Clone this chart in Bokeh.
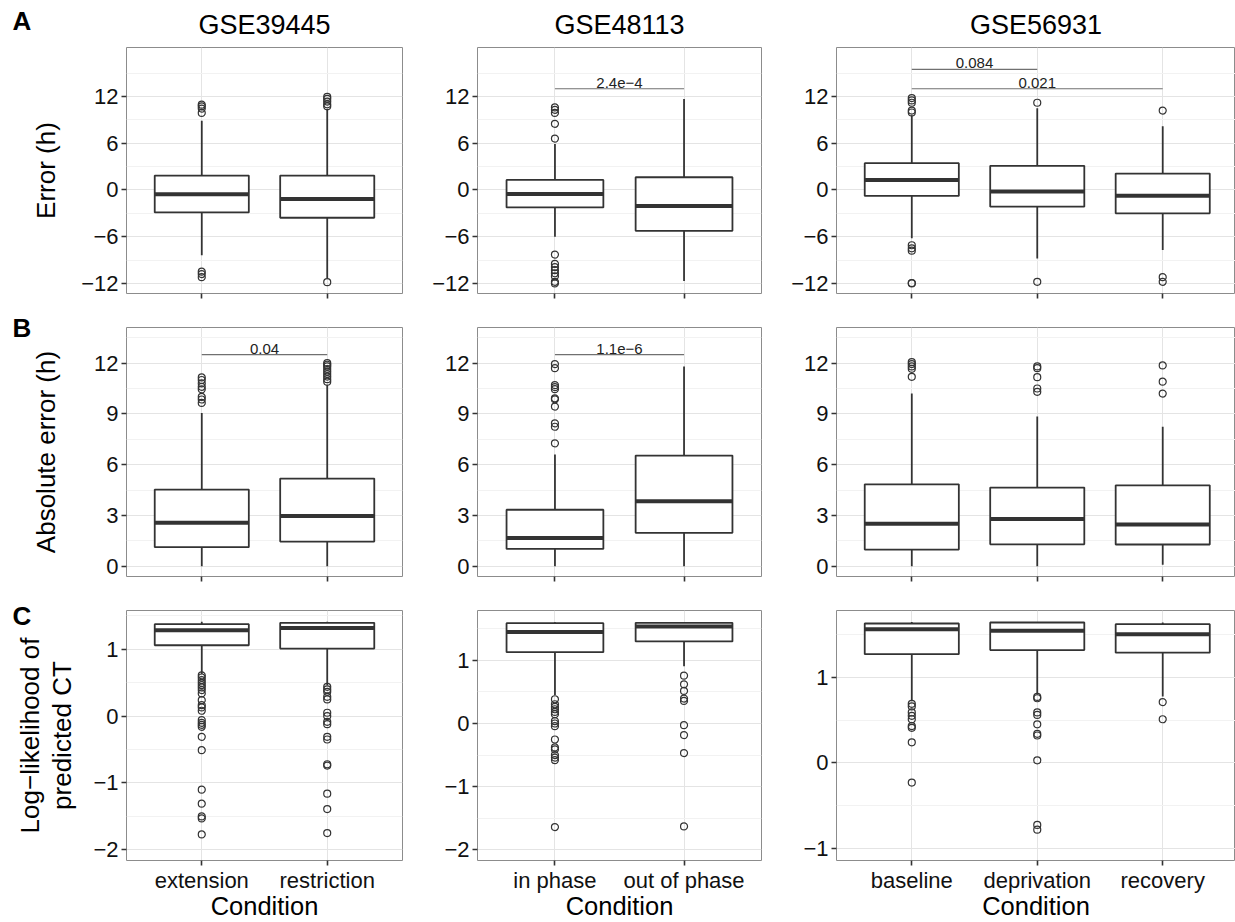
import math
from bokeh.plotting import figure
from bokeh.layouts import gridplot, row, column
from bokeh.models import Range1d, FixedTicker, ColumnDataSource
from bokeh.core.properties import value
from bokeh.embed import file_html
from bokeh.resources import INLINE

FONT = "Liberation Sans"
INK = "#333333"

# ---- conditions per dataset ----
cond_39445 = ["extension", "restriction"]
cond_48113 = ["in phase", "out of phase"]
cond_56931 = ["baseline", "deprivation", "recovery"]

# ---- row A: signed error (h) ----
err_39445_lo = [-8.4, -11.35]
err_39445_q1 = [-2.88, -3.57]
err_39445_med = [-0.56, -1.16]
err_39445_q3 = [1.85, 1.85]
err_39445_hi = [8.9, 10.4]
err_39445_out = [[10.95, 10.75, 10.45, 9.9, -10.5, -10.8, -11.2],
                 [11.95, 11.7, 11.35, 11.0, 10.75, -11.85]]

err_48113_lo = [-6.0, -11.7]
err_48113_q1 = [-2.24, -5.25]
err_48113_med = [-0.52, -2.06]
err_48113_q3 = [1.29, 1.63]
err_48113_hi = [5.9, 11.7]
err_48113_out = [[10.6, 10.3, 9.9, 8.5, 6.6, -8.3, -9.5, -9.9, -10.3, -10.7, -11.1, -11.8, -12.0],
                 []]

err_56931_lo = [-6.2, -8.8, -7.7]
err_56931_q1 = [-0.77, -2.15, -3.0]
err_56931_med = [1.29, -0.2, -0.73]
err_56931_q3 = [3.44, 3.1, 2.1]
err_56931_hi = [9.6, 10.5, 8.2]
err_56931_out = [[11.8, 11.5, 11.2, 10.2, 9.95, -7.1, -7.5, -7.8, -11.95, -12.0],
                 [11.2, -11.8],
                 [10.2, -11.2, -11.8]]

# ---- row B: absolute error (h) ----
abs_39445_lo = [0.0, 0.0]
abs_39445_q1 = [1.13, 1.46]
abs_39445_med = [2.57, 2.97]
abs_39445_q3 = [4.53, 5.18]
abs_39445_hi = [9.05, 10.7]
abs_39445_out = [[11.15, 11.0, 10.8, 10.6, 10.45, 10.0, 9.85, 9.65],
                 [12.0, 11.9, 11.8, 11.65, 11.5, 11.35, 11.2, 11.05, 10.9]]

abs_48113_lo = [0.0, 0.0]
abs_48113_q1 = [1.03, 1.98]
abs_48113_med = [1.68, 3.84]
abs_48113_q3 = [3.34, 6.54]
abs_48113_hi = [6.6, 11.8]
abs_48113_out = [[11.94, 11.7, 10.7, 10.58, 10.46, 9.92, 9.86, 9.43, 8.44, 8.24, 7.26],
                 []]

abs_56931_lo = [0.0, 0.0, 0.1]
abs_56931_q1 = [0.99, 1.3, 1.29]
abs_56931_med = [2.51, 2.79, 2.47]
abs_56931_q3 = [4.84, 4.65, 4.78]
abs_56931_hi = [10.2, 8.84, 8.24]
abs_56931_out = [[12.06, 11.94, 11.8, 11.66, 11.19],
                 [11.8, 11.7, 11.17, 10.5, 10.3],
                 [11.86, 10.9, 10.2]]

# ---- row C: log-likelihood of predicted CT ----
ll_39445_lo = [0.63, 0.46]
ll_39445_q1 = [1.06, 1.01]
ll_39445_med = [1.285, 1.32]
ll_39445_q3 = [1.375, 1.395]
ll_39445_hi = [1.41, 1.41]
ll_39445_out = [[0.61, 0.578, 0.538, 0.498, 0.463, 0.428, 0.389, 0.339, 0.239, 0.164, 0.13, 0.08,
                 -0.06, -0.1, -0.13, -0.16, -0.31, -0.51, -1.10, -1.31, -1.50, -1.53, -1.77],
                [0.438, 0.399, 0.364, 0.289, 0.249, 0.05, 0.0, -0.085, -0.12, -0.31, -0.35,
                 -0.72, -0.74, -1.16, -1.39, -1.75]]

ll_48113_lo = [0.45, 0.905]
ll_48113_q1 = [1.13, 1.3]
ll_48113_med = [1.45, 1.537]
ll_48113_q3 = [1.59, 1.595]
ll_48113_hi = [1.605, 1.605]
ll_48113_out = [[0.384, 0.305, 0.263, 0.226, 0.184, 0.147, 0.037, 0.0, -0.042, -0.253, -0.379,
                 -0.41, -0.5, -0.54, -0.58, -1.64],
                [0.758, 0.621, 0.516, 0.395, 0.358, -0.026, -0.184, -0.468, -1.63]]

ll_56931_lo = [0.72, 0.80, 0.775]
ll_56931_q1 = [1.27, 1.318, 1.287]
ll_56931_med = [1.562, 1.543, 1.504]
ll_56931_q3 = [1.628, 1.64, 1.62]
ll_56931_hi = [1.647, 1.647, 1.64]
ll_56931_out = [[0.69, 0.66, 0.59, 0.55, 0.51, 0.43, 0.41, 0.24, -0.23],
                [0.77, 0.755, 0.59, 0.56, 0.45, 0.34, 0.32, 0.03, -0.725, -0.78],
                [0.71, 0.51]]

# ---- pairwise test p-values shown above the boxes: (from, to, height, text) ----
sig_err_48113 = [(1, 2, 13.0, "2.4e\u22124")]
sig_err_56931 = [(1, 2, 15.5, "0.084"), (1, 3, 13.0, "0.021")]
sig_abs_39445 = [(1, 2, 12.5, "0.04")]
sig_abs_48113 = [(1, 2, 12.5, "1.1e\u22126")]

# ---- row headings: panel letter and y-axis title lines ----
row_letters = ["A", "B", "C"]
row_titles = [["Error (h)"], ["Absolute error (h)"], ["Log\u2212likelihood of", "predicted CT"]]


def minus(v):
    return ("%g" % v).replace("-", "\u2212")


def make_panel(width, height, borders, xr, yr, yticks, yminor, conds,
               show_xlabels, title=None):
    left, right, top, bottom = borders
    p = figure(width=width, height=height, x_range=Range1d(*xr), y_range=Range1d(*yr),
               output_backend="svg", toolbar_location=None, tools="",
               min_border_left=left, min_border_right=right,
               min_border_top=top, min_border_bottom=bottom)
    p.background_fill_color = "white"
    p.border_fill_color = "white"
    p.outline_line_color = "#8c8c8c"
    p.outline_line_width = 1

    xs = list(range(1, len(conds) + 1))
    p.xaxis.ticker = FixedTicker(ticks=xs)
    p.yaxis.ticker = FixedTicker(ticks=yticks, minor_ticks=yminor)
    p.yaxis.major_label_overrides = {t: minus(t) for t in yticks}
    for ax in (p.xaxis, p.yaxis):
        ax.axis_line_color = None
        ax.major_tick_line_color = INK
        ax.major_tick_line_width = 1.6
        ax.major_tick_in = 0
        ax.major_tick_out = 5
        ax.minor_tick_line_color = None
        ax.major_label_text_font = FONT
        ax.major_label_text_color = "#111111"
        ax.major_label_standoff = 3
        ax.axis_label_text_font = FONT
        ax.axis_label_text_font_style = "normal"
        ax.axis_label_text_color = "#000000"
    if show_xlabels:
        p.xaxis.major_label_overrides = {x: c for x, c in zip(xs, conds)}
        p.xaxis.axis_label = "Condition"
        p.xaxis.axis_label_text_font_size = "25.5px"
        p.xaxis.axis_label_standoff = -4
        p.xaxis.major_label_standoff = 2
        p.xaxis.major_label_text_font_size = "22px"
    else:
        p.xaxis.major_label_overrides = {x: "" for x in xs}
        p.xaxis.major_label_text_font_size = "0px"
        p.xaxis.major_label_standoff = 0
    p.yaxis.major_label_text_font_size = "22px"

    p.xgrid.grid_line_color = "#e4e4e4"
    p.ygrid.grid_line_color = "#e4e4e4"
    p.ygrid.minor_grid_line_color = "#f2f2f2"

    if title:
        p.title.text = title
        p.title.align = "center"
        p.title.vertical_align = "top"
        p.title.text_font = FONT
        p.title.text_font_size = "27px"
        p.title.text_font_style = "normal"
        p.title.text_color = "#000000"
        p.title.standoff = 12
    return p


def heading_panel(width, height, top, bottom, letter, letter_top, lines, line_x):
    # narrow strip left of each row: bold panel letter and the rotated y-axis title,
    # in a pixel-sized coordinate space (y grows upward)
    p = figure(width=width, height=height, x_range=Range1d(0, width), y_range=Range1d(0, height),
               output_backend="svg", toolbar_location=None, tools="",
               x_axis_location=None, y_axis_location=None, min_border=0)
    p.outline_line_color = None
    p.grid.visible = False
    p.background_fill_color = "white"
    p.border_fill_color = "white"
    p.text(x=[12], y=[height - letter_top], text=[letter], text_font=value(FONT),
           text_font_size="26px", text_font_style="bold", text_align="left",
           text_baseline="middle", text_color="#000000")
    yc = bottom + (height - top - bottom) / 2
    for xc, line in zip(line_x, lines):
        p.text(x=[xc], y=[yc], text=[line], angle=math.pi / 2, text_font=value(FONT),
               text_font_size="26px", text_align="center", text_baseline="middle",
               text_color="#000000")
    return p


def draw_boxes(p, lo, q1, med, q3, hi, outliers):
    xs = list(range(1, len(q1) + 1))
    src = ColumnDataSource(dict(x=xs, lo=lo, q1=q1, med=med, q3=q3, hi=hi,
                                l=[x - 0.375 for x in xs], r=[x + 0.375 for x in xs]))
    p.segment(x0="x", y0="q3", x1="x", y1="hi", source=src, line_color=INK, line_width=1.8)
    p.segment(x0="x", y0="q1", x1="x", y1="lo", source=src, line_color=INK, line_width=1.8)
    p.vbar(x="x", width=0.75, bottom="q1", top="q3", source=src,
           fill_color="white", line_color=INK, line_width=1.8)
    p.segment(x0="l", y0="med", x1="r", y1="med", source=src, line_color=INK, line_width=4)
    ox, oy = [], []
    for x, pts in zip(xs, outliers):
        ox += [x] * len(pts)
        oy += pts
    p.scatter(ox, oy, marker="circle", size=7, fill_color=None,
              line_color=INK, line_width=1.2)


def draw_sig(p, marks):
    for a, b, y, txt in marks:
        p.segment(x0=[a], y0=[y], x1=[b], y1=[y], line_color="#707070", line_width=1.2)
        p.text(x=[(a + b) / 2], y=[y], text=[txt], text_align="center",
               text_baseline="bottom", y_offset=-1, text_font=value(FONT),
               text_font_size="15px", text_color="#222222")


# column geometry: figure width, (left, right) borders, x range
WL = 78
W1, W2, W3 = 337, 370, 450
B1, B2, B3 = (48, 13), (62, 24), (51, 0)
XR2 = (0.4, 2.6)
XR3 = (0.4, 3.58)
# row geometry: figure height, (top, bottom) borders
HA, HB, HC = 310, 276, 336
TA, TB, TC = (47, 17), (17, 10), (24, 62)

ticks_err, minor_err = [-12, -6, 0, 6, 12], [-9, -3, 3, 9, 15]
ticks_abs, minor_abs = [0, 3, 6, 9, 12], [1.5, 4.5, 7.5, 10.5, 13.5]
ticks_ll, minor_ll = [-2, -1, 0, 1], [-1.5, -0.5, 0.5, 1.5]
ticks_ll3, minor_ll3 = [-1, 0, 1], [-0.5, 0.5, 1.5]

# ---- row headings ----
ha = heading_panel(WL, HA, TA[0], TA[1], row_letters[0], 20, row_titles[0], [45])
hb = heading_panel(WL, HB, TB[0], TB[1], row_letters[1], 17, row_titles[1], [45])
hc = heading_panel(WL, HC, TC[0], TC[1], row_letters[2], 29, row_titles[2], [29, 61])

# ---- row A ----
a1 = make_panel(W1, HA, B1 + TA, XR2, (-13.3, 18.3), ticks_err, minor_err, cond_39445, False,
                title="GSE39445")
draw_boxes(a1, err_39445_lo, err_39445_q1, err_39445_med, err_39445_q3, err_39445_hi, err_39445_out)

a2 = make_panel(W2, HA, B2 + TA, XR2, (-13.3, 18.3), ticks_err, minor_err, cond_48113, False,
                title="GSE48113")
draw_boxes(a2, err_48113_lo, err_48113_q1, err_48113_med, err_48113_q3, err_48113_hi, err_48113_out)
draw_sig(a2, sig_err_48113)

a3 = make_panel(W3, HA, B3 + TA, XR3, (-13.3, 18.3), ticks_err, minor_err, cond_56931, False,
                title="GSE56931")
draw_boxes(a3, err_56931_lo, err_56931_q1, err_56931_med, err_56931_q3, err_56931_hi, err_56931_out)
draw_sig(a3, sig_err_56931)

# ---- row B ----
b1 = make_panel(W1, HB, B1 + TB, XR2, (-0.6, 14.1), ticks_abs, minor_abs, cond_39445, False)
draw_boxes(b1, abs_39445_lo, abs_39445_q1, abs_39445_med, abs_39445_q3, abs_39445_hi, abs_39445_out)
draw_sig(b1, sig_abs_39445)

b2 = make_panel(W2, HB, B2 + TB, XR2, (-0.6, 14.1), ticks_abs, minor_abs, cond_48113, False)
draw_boxes(b2, abs_48113_lo, abs_48113_q1, abs_48113_med, abs_48113_q3, abs_48113_hi, abs_48113_out)
draw_sig(b2, sig_abs_48113)

b3 = make_panel(W3, HB, B3 + TB, XR3, (-0.6, 14.1), ticks_abs, minor_abs, cond_56931, False)
draw_boxes(b3, abs_56931_lo, abs_56931_q1, abs_56931_med, abs_56931_q3, abs_56931_hi, abs_56931_out)

# ---- row C ----
c1 = make_panel(W1, HC, B1 + TC, XR2, (-2.16, 1.58), ticks_ll, minor_ll, cond_39445, True)
draw_boxes(c1, ll_39445_lo, ll_39445_q1, ll_39445_med, ll_39445_q3, ll_39445_hi, ll_39445_out)

c2 = make_panel(W2, HC, B2 + TC, XR2, (-2.17, 1.79), ticks_ll, minor_ll, cond_48113, True)
draw_boxes(c2, ll_48113_lo, ll_48113_q1, ll_48113_med, ll_48113_q3, ll_48113_hi, ll_48113_out)

c3 = make_panel(W3, HC, B3 + TC, XR3, (-1.14, 1.78), ticks_ll3, minor_ll3, cond_56931, True)
draw_boxes(c3, ll_56931_lo, ll_56931_q1, ll_56931_med, ll_56931_q3, ll_56931_hi, ll_56931_out)

panels = gridplot([[a1, a2, a3], [b1, b2, b3], [c1, c2, c3]], toolbar_location=None)
page = row(column(ha, hb, hc), panels)

open("out.html", "w").write(file_html(page, INLINE))
